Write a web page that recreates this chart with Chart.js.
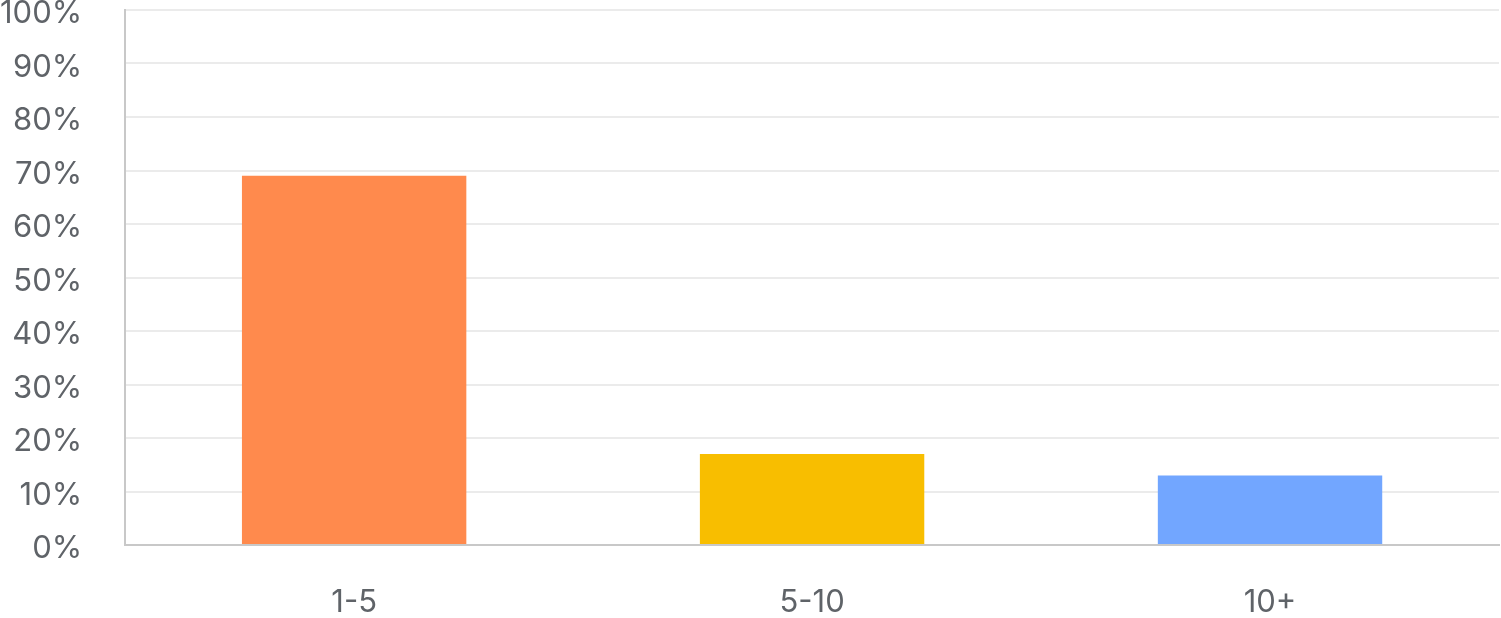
<!DOCTYPE html>
<html>
<head>
<meta charset="utf-8">
<script src="https://cdn.jsdelivr.net/npm/chart.js@4"></script>
<style>
  html, body { margin: 0; padding: 0; background: #fff; overflow: hidden; }
  canvas { display: block; }
</style>
</head>
<body>
<canvas id="chart" width="1501" height="618"></canvas>
<script>
// ===== data
const categories = ['1-5', '5-10', '10+'];
const shares = [69, 17, 13];
const barColors = ['#FF8A4D', '#F8BE00', '#72A6FF'];

// ===== chart
const ctx = document.getElementById('chart').getContext('2d');
new Chart(ctx, {
    type: 'bar',
    data: {
        labels: categories,
        datasets: [{
            data: shares,
            backgroundColor: barColors,
            borderWidth: 0,
            categoryPercentage: 1,
            barPercentage: 0.49
        }]
    },
    options: {
        responsive: false,
        animation: false,
        devicePixelRatio: 1,
        layout: { padding: { right: 2 } },
        plugins: {
            legend: { display: false },
            tooltip: { enabled: false }
        },
        scales: {
            y: {
                min: 0,
                max: 100,
                ticks: {
                    stepSize: 10,
                    padding: 0,
                    labelOffset: 4,
                    color: '#5f6368',
                    font: { family: 'Inter', size: 31, lineHeight: '20px' },
                    callback: v => v + '%'
                },
                // tick marks kept invisible, they only space the labels from the axis
                grid: { color: '#ebebeb', lineWidth: 2, tickLength: 43, tickColor: 'rgba(0,0,0,0)' },
                border: { color: '#c8c8c8', width: 2 }
            },
            x: {
                ticks: {
                    padding: 0,
                    color: '#5f6368',
                    font: { family: 'Inter', size: 31, lineHeight: '30px' }
                },
                grid: { drawOnChartArea: false, tickLength: 43, tickColor: 'rgba(0,0,0,0)' },
                border: { color: '#c8c8c8', width: 2 }
            }
        }
    }
});
</script>
</body>
</html>
